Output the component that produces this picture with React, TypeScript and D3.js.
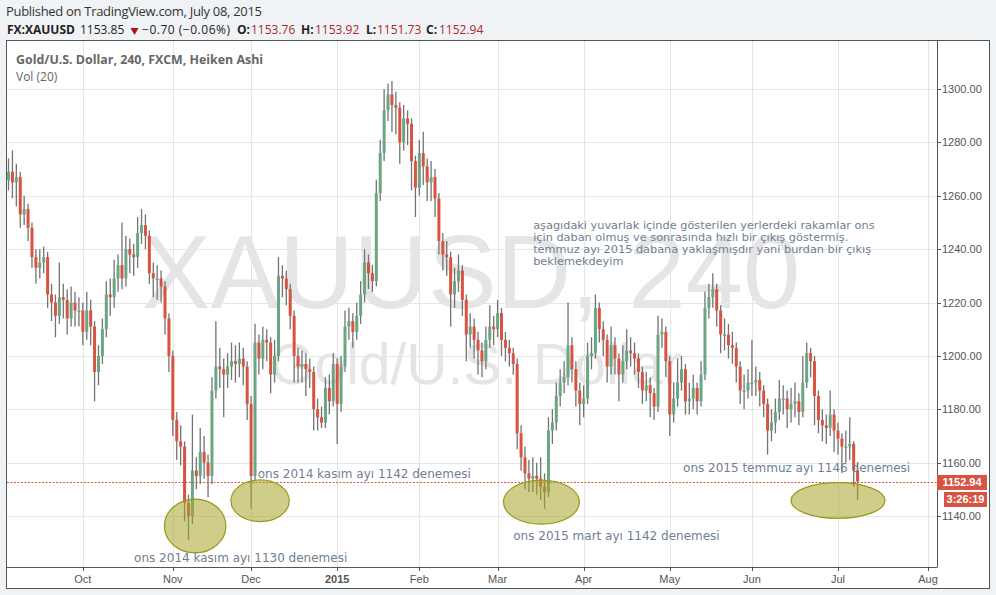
import React from "react";
import * as d3 from "d3";

// ---------- data ----------
const FIRST_DAY = "2014-09-04";
const LAST_AXIS_DAY = "2015-08-03";
const HOLIDAYS = ["2014-12-25", "2015-01-01"];
const FIRST_OPEN = 1266;

const closes = [
  1269, 1265, 1267, 1253, 1255, 1248, 1237, 1233, 1235, 1237,
  1223, 1220, 1215, 1222, 1221, 1214, 1220, 1217, 1217, 1209,
  1217, 1211, 1194, 1200, 1210, 1223, 1222, 1229, 1234, 1229,
  1240, 1238, 1237, 1246, 1249, 1245, 1231, 1229, 1229, 1226,
  1214, 1200, 1176, 1168, 1166, 1145, 1140, 1157, 1155, 1164,
  1160, 1155, 1187, 1196, 1195, 1193, 1196, 1198, 1197, 1199,
  1196, 1182, 1155, 1205, 1199, 1206, 1205, 1193, 1200, 1230,
  1229, 1225, 1215, 1200, 1196, 1197, 1195, 1194, 1180, 1177,
  1175, 1188, 1183, 1197, 1182, 1196, 1211, 1213, 1209, 1215,
  1223, 1235, 1231, 1228, 1261, 1276, 1292, 1298, 1294, 1293,
  1280, 1289, 1287, 1273, 1263, 1276, 1271, 1265, 1267, 1259,
  1243, 1238, 1237, 1223, 1228, 1232, 1221, 1208, 1211, 1206,
  1202, 1198, 1206, 1211, 1210, 1216, 1206, 1203, 1201, 1197,
  1171, 1162, 1156, 1154, 1155, 1154, 1151, 1149, 1172, 1175,
  1185, 1190, 1192, 1204, 1195, 1187, 1182, 1184, 1200, 1201,
  1218, 1210, 1206, 1196, 1204, 1199, 1193, 1198, 1202, 1201,
  1199, 1194, 1187, 1189, 1186, 1181, 1208, 1209, 1198, 1178,
  1184, 1190, 1195, 1183, 1184, 1188, 1183, 1193, 1218, 1222,
  1225, 1217, 1208, 1208, 1204, 1203, 1196, 1187, 1187, 1190,
  1190, 1191, 1187, 1182, 1172, 1175, 1179, 1184, 1184, 1180,
  1182, 1183, 1179, 1190, 1201, 1198, 1185, 1176, 1174, 1173,
  1178, 1172, 1169, 1166, 1166, 1167, 1157, 1152.94,
];

const highs = [
  1274, 1277, 1272, 1269, 1260, 1257, 1250, 1240, 1240, 1241,
  1239, 1227, 1223, 1235, 1227, 1225, 1226, 1224, 1222, 1220,
  1224, 1221, 1213, 1204, 1214, 1228, 1229, 1236, 1238, 1250,
  1245, 1244, 1242, 1252, 1255, 1253, 1247, 1235, 1234, 1232,
  1228, 1216, 1202, 1179, 1174, 1168, 1148, 1178, 1162, 1173,
  1170, 1163, 1192, 1213, 1203, 1199, 1201, 1205, 1204, 1205,
  1203, 1198, 1185, 1212, 1208, 1211, 1210, 1207, 1206, 1237,
  1234, 1232, 1227, 1217, 1203, 1202, 1201, 1199, 1196, 1184,
  1181, 1192, 1193, 1201, 1199, 1200, 1217, 1218, 1216, 1220,
  1228, 1240, 1238, 1234, 1266, 1281, 1300, 1302, 1303, 1299,
  1295, 1294, 1292, 1289, 1275, 1281, 1284, 1274, 1273, 1270,
  1261, 1246, 1243, 1239, 1233, 1238, 1234, 1223, 1216, 1214,
  1209, 1205, 1211, 1219, 1215, 1221, 1218, 1209, 1206, 1203,
  1199, 1174, 1166, 1161, 1162, 1160, 1162, 1156, 1177, 1180,
  1190, 1195, 1198, 1220, 1207, 1198, 1190, 1189, 1205, 1207,
  1223, 1220, 1213, 1208, 1211, 1207, 1201, 1204, 1210, 1207,
  1205, 1201, 1196, 1194, 1192, 1188, 1215, 1214, 1211, 1200,
  1190, 1199, 1200, 1197, 1190, 1193, 1190, 1198, 1224, 1227,
  1231, 1227, 1219, 1214, 1212, 1209, 1205, 1198, 1193, 1195,
  1206, 1196, 1194, 1189, 1184, 1180, 1184, 1191, 1189, 1187,
  1188, 1190, 1186, 1200, 1205, 1203, 1200, 1187, 1180, 1178,
  1187, 1180, 1175, 1171, 1172, 1177, 1168, 1160,
];

const lows = [
  1262, 1259, 1256, 1248, 1249, 1243, 1233, 1227, 1229, 1231,
  1218, 1213, 1207, 1212, 1214, 1208, 1211, 1211, 1211, 1204,
  1206, 1204, 1183, 1189, 1197, 1207, 1215, 1218, 1224, 1225,
  1226, 1231, 1230, 1233, 1242, 1240, 1227, 1222, 1221, 1220,
  1208, 1194, 1170, 1161, 1159, 1138, 1131, 1137, 1150, 1152,
  1154, 1147, 1152, 1184, 1188, 1177, 1188, 1191, 1190, 1192,
  1189, 1176, 1142.7, 1153, 1193, 1195, 1198, 1186, 1190, 1198,
  1222, 1219, 1210, 1190, 1190, 1190, 1185, 1188, 1172, 1172,
  1173, 1173, 1178, 1181, 1167, 1179, 1194, 1206, 1203, 1206,
  1212, 1220, 1225, 1224, 1226, 1258, 1273, 1288, 1284, 1283,
  1272, 1277, 1279, 1262, 1252, 1260, 1264, 1258, 1258, 1252,
  1238, 1232, 1230, 1211, 1218, 1224, 1215, 1198, 1203, 1199,
  1193, 1192, 1195, 1203, 1204, 1207, 1200, 1198, 1196, 1193,
  1165, 1157, 1150, 1149, 1149, 1148, 1146, 1142.7, 1147, 1167,
  1172, 1181, 1186, 1189, 1190, 1181, 1174, 1177, 1182, 1195,
  1199, 1205, 1200, 1190, 1193, 1193, 1183, 1190, 1195, 1196,
  1193, 1188, 1182, 1183, 1177, 1176, 1179, 1203, 1192, 1170,
  1175, 1181, 1187, 1178, 1178, 1180, 1178, 1181, 1191, 1214,
  1218, 1211, 1201, 1202, 1199, 1197, 1190, 1182, 1180, 1184,
  1185, 1185, 1181, 1177, 1163, 1168, 1171, 1176, 1178, 1173,
  1175, 1177, 1174, 1177, 1188, 1192, 1174, 1171, 1168, 1167,
  1170, 1164, 1163, 1156, 1160, 1161, 1151, 1146,
];

const priceTicks = [1140, 1160, 1180, 1200, 1220, 1240, 1260, 1280, 1300];
const monthLabels = ["Oct", "Nov", "Dec", "2015", "Feb", "Mar", "Apr", "May", "Jun", "Jul", "Aug"];
const yearLabels = ["2015"];
const lastPrice = 1152.94;
const countdown = "3:26:19";

const publishedLine = "Published on TradingView.com, July 08, 2015";
const symbolName = "FX:XAUUSD";
const lastQuote = "1153.85";
const changeText = "\u22120.70 (\u22120.06%)";
const ohlcKeys = ["O:", "H:", "L:", "C:"];
const ohlcValues = ["1153.76", "1153.92", "1151.73", "1152.94"];
const chartTitle = "Gold/U.S. Dollar, 240, FXCM, Heiken Ashi";
const volTitle = "Vol (20)";
const watermarkMain = "XAUUSD, 240";
const watermarkSub = "Gold/U.S. Dollar";

// annotations anchored in bar index / price units
const noteBars = [63.7, 32.1, 129.0, 172.4];
const notePrices = [1154.2, 1122.9, 1131.0, 1156.5];
const noteTexts = [
  "ons 2014 kas\u0131m ay\u0131 1142 denemesi",
  "ons 2014 kas\u0131m ay\u0131 1130 denemesi",
  "ons 2015 mart ay\u0131 1142 denemesi",
  "ons 2015 temmuz ay\u0131 1146 denemesi",
];
const paragraphBar = 134.1;
const paragraphPrice = 1247.5;
const paragraphLines = [
  "a\u015fag\u0131daki yuvarlak i\u00e7inde g\u00f6sterilen yerlerdeki rakamlar ons",
  "i\u00e7in daban olmu\u015f ve sonras\u0131nda h\u0131zl\u0131 bir \u00e7\u0131k\u0131\u015f g\u00f6stermi\u015f.",
  "temmuz ay\u0131 2015 dabana yakla\u015fm\u0131\u015fd\u0131r yani burdan bir \u00e7\u0131k\u0131\u015f",
  "beklemekdeyim",
];
const circleBars = [47.7, 64.3, 136.2, 212.0];
const circlePrices = [1136.25, 1145.7, 1145.2, 1145.8];
const circleBarRadii = [7.85, 7.45, 9.7, 12.0];
const circlePriceRadii = [10.1, 7.8, 8.25, 6.7];

// ---------- layout ----------
const W = 996;
const H = 595;
const FRAME = { x: 6.5, y: 40.5, w: 983, h: 548 };
const PLOT = { left: 7, right: 937, top: 41, bottom: 567 };

const parse = d3.timeParse("%Y-%m-%d");
const fmt = d3.timeFormat("%Y-%m-%d");
const allDays = d3
  .timeDay.range(parse(FIRST_DAY)!, d3.timeDay.offset(parse(LAST_AXIS_DAY)!, 1))
  .filter((d) => d.getDay() !== 0 && d.getDay() !== 6 && !HOLIDAYS.includes(fmt(d)));

const x = d3.scaleLinear().domain([0, allDays.length - 1]).range([8.5, 928]);
const y = d3.scaleLinear().domain([1140, 1300]).range([516, 89]);

const monthTickIdx: number[] = [];
allDays.forEach((d, i) => {
  if (i > 0 && d.getMonth() !== allDays[i - 1].getMonth()) monthTickIdx.push(i);
});

const UP = "#6ba583";
const DOWN = "#d75442";
const WICK = "#737373";
const AXIS = "#555555";
const GRID = "#e6e6e6";
const NOTE = "#6f8092";

export default function App() {
  const candles = closes.map((c, i) => {
    const o = i === 0 ? FIRST_OPEN : closes[i - 1];
    return { i, o, c, h: highs[i], l: lows[i] };
  });
  const bodyW = 3;
  const fmt2 = d3.format(".2f");
  const pxPerBar = x(1) - x(0);
  const pxPerPrice = y(1140) - y(1141);
  const lineStep = 11.8;

  return (
    <div>
      <style>{`body{margin:0;}`}</style>
      <svg width={W} height={H} style={{ display: "block" }}>
        <rect x={0} y={0} width={W} height={H} fill="#f0f3f6" />
        {/* header */}
        <text x={6} y={16} fontFamily="Open Sans" fontSize={13} fill="#333" textLength={256} lengthAdjust="spacing">
          {publishedLine}
        </text>
        <g fontFamily="Open Sans" fontSize={12} fill="#222">
          <text x={7} y={34} fontWeight={700}>{symbolName}</text>
          <text x={80} y={34}>{lastQuote}</text>
          <path d="M130.5,28 L138.5,28 L134.5,35 Z" fill="#a11818" />
          <text x={142} y={34} textLength={88} lengthAdjust="spacing">{changeText}</text>
          {ohlcKeys.map((k, i) => {
            const kx = [237, 301, 366, 426][i];
            const vx = [251, 315, 377, 439][i];
            return (
              <g key={k}>
                <text x={kx} y={34} fontWeight={700}>{k}</text>
                <text x={vx} y={34} fill="#b0262a">{ohlcValues[i]}</text>
              </g>
            );
          })}
        </g>

        {/* frame */}
        <rect x={FRAME.x} y={FRAME.y} width={FRAME.w} height={FRAME.h} fill="#fff" stroke={AXIS} strokeWidth={1} />

        {/* watermark */}
        <g fontFamily="Liberation Sans, Arial, sans-serif" fill="#e5e5e5" textAnchor="middle">
          <text x={471} y={308} fontSize={103}>{watermarkMain}</text>
          <text x={476} y={384} fontSize={57}>{watermarkSub}</text>
        </g>

        {/* grid */}
        <g stroke={GRID} strokeWidth={1}>
          {priceTicks.map((p) => (
            <line key={p} x1={PLOT.left} x2={PLOT.right} y1={Math.round(y(p)) + 0.5} y2={Math.round(y(p)) + 0.5} />
          ))}
          {monthTickIdx.map((i) => (
            <line key={i} x1={Math.round(x(i)) + 0.5} x2={Math.round(x(i)) + 0.5} y1={PLOT.top} y2={PLOT.bottom} />
          ))}
        </g>

        {/* titles */}
        <text x={16} y={64} fontFamily="Open Sans" fontWeight={700} fontSize={12.4} fill="#666">{chartTitle}</text>
        <text x={16} y={81} fontFamily="Open Sans" fontSize={12} fill="#666">{volTitle}</text>

        {/* candles */}
        <defs>
          <clipPath id="plotclip">
            <rect x={PLOT.left} y={PLOT.top} width={PLOT.right - PLOT.left} height={PLOT.bottom - PLOT.top} />
          </clipPath>
        </defs>
        <g clipPath="url(#plotclip)">
          {candles.map((d) => (
            <line key={"w" + d.i} x1={x(d.i)} x2={x(d.i)} y1={y(d.h)} y2={y(d.l)} stroke={WICK} strokeWidth={1.3} />
          ))}
          {candles.map((d) => {
            const top = y(Math.max(d.o, d.c));
            const bot = y(Math.min(d.o, d.c));
            return (
              <rect
                key={"b" + d.i}
                x={x(d.i) - bodyW / 2}
                y={top}
                width={bodyW}
                height={Math.max(1.5, bot - top)}
                fill={d.c >= d.o ? UP : DOWN}
              />
            );
          })}
        </g>

        {/* last price line */}
        <line x1={PLOT.left} x2={PLOT.right} y1={y(lastPrice) + 1} y2={y(lastPrice) + 1} stroke={DOWN} strokeWidth={1} strokeDasharray="2 1.5" />

        {/* ellipses */}
        {circleBars.map((b, i) => (
          <ellipse
            key={"e" + i}
            cx={x(b)}
            cy={y(circlePrices[i])}
            rx={circleBarRadii[i] * pxPerBar}
            ry={circlePriceRadii[i] * pxPerPrice}
            fill="#a5a52a"
            fillOpacity={0.55}
            stroke="#9b981c"
            strokeWidth={1.2}
          />
        ))}

        {/* notes */}
        <g fontFamily="DejaVu Sans" fontSize={12} fill={NOTE}>
          {noteTexts.map((t, i) => (
            <text key={t} x={x(noteBars[i])} y={y(notePrices[i])}>{t}</text>
          ))}
        </g>
        <g fontFamily="DejaVu Sans" fontSize={11.3} fill={NOTE}>
          {paragraphLines.map((t, i) => (
            <text key={i} x={x(paragraphBar)} y={y(paragraphPrice) + i * lineStep}>{t}</text>
          ))}
        </g>

        {/* axes */}
        <line x1={PLOT.right + 0.5} x2={PLOT.right + 0.5} y1={PLOT.top} y2={PLOT.bottom} stroke={AXIS} />
        <line x1={PLOT.left} x2={PLOT.right + 0.5} y1={PLOT.bottom + 0.5} y2={PLOT.bottom + 0.5} stroke={AXIS} />
        <g fontFamily="Liberation Sans, Arial, sans-serif" fontSize={11} fill="#555">
          {priceTicks.map((p) => (
            <g key={p}>
              <line x1={PLOT.right} x2={PLOT.right + 4} y1={Math.round(y(p)) + 0.5} y2={Math.round(y(p)) + 0.5} stroke={AXIS} />
              <text x={PLOT.right + 5} y={y(p) + 4}>{fmt2(p)}</text>
            </g>
          ))}
          {monthTickIdx.map((i, k) => (
            <g key={i}>
              <line x1={Math.round(x(i)) + 0.5} x2={Math.round(x(i)) + 0.5} y1={PLOT.bottom} y2={PLOT.bottom + 4} stroke={AXIS} />
              <text
                x={x(i)}
                y={PLOT.bottom + 16}
                textAnchor="middle"
                fontWeight={yearLabels.includes(monthLabels[k]) ? 700 : 400}
              >
                {monthLabels[k]}
              </text>
            </g>
          ))}
        </g>

        {/* last price tags */}
        <rect x={PLOT.right} y={y(lastPrice) - 6.5} width={50} height={15} fill={DOWN} />
        <text x={PLOT.right + 25} y={y(lastPrice) + 5} textAnchor="middle" fontFamily="Liberation Sans, Arial, sans-serif" fontWeight={700} fontSize={11} fill="#fff">
          {fmt2(lastPrice)}
        </text>
        <rect x={PLOT.right + 7} y={y(lastPrice) + 10.5} width={43} height={15} fill={DOWN} />
        <text x={PLOT.right + 28.5} y={y(lastPrice) + 22} textAnchor="middle" fontFamily="Liberation Sans, Arial, sans-serif" fontWeight={700} fontSize={11} fill="#fff">
          {countdown}
        </text>
      </svg>
    </div>
  );
}
